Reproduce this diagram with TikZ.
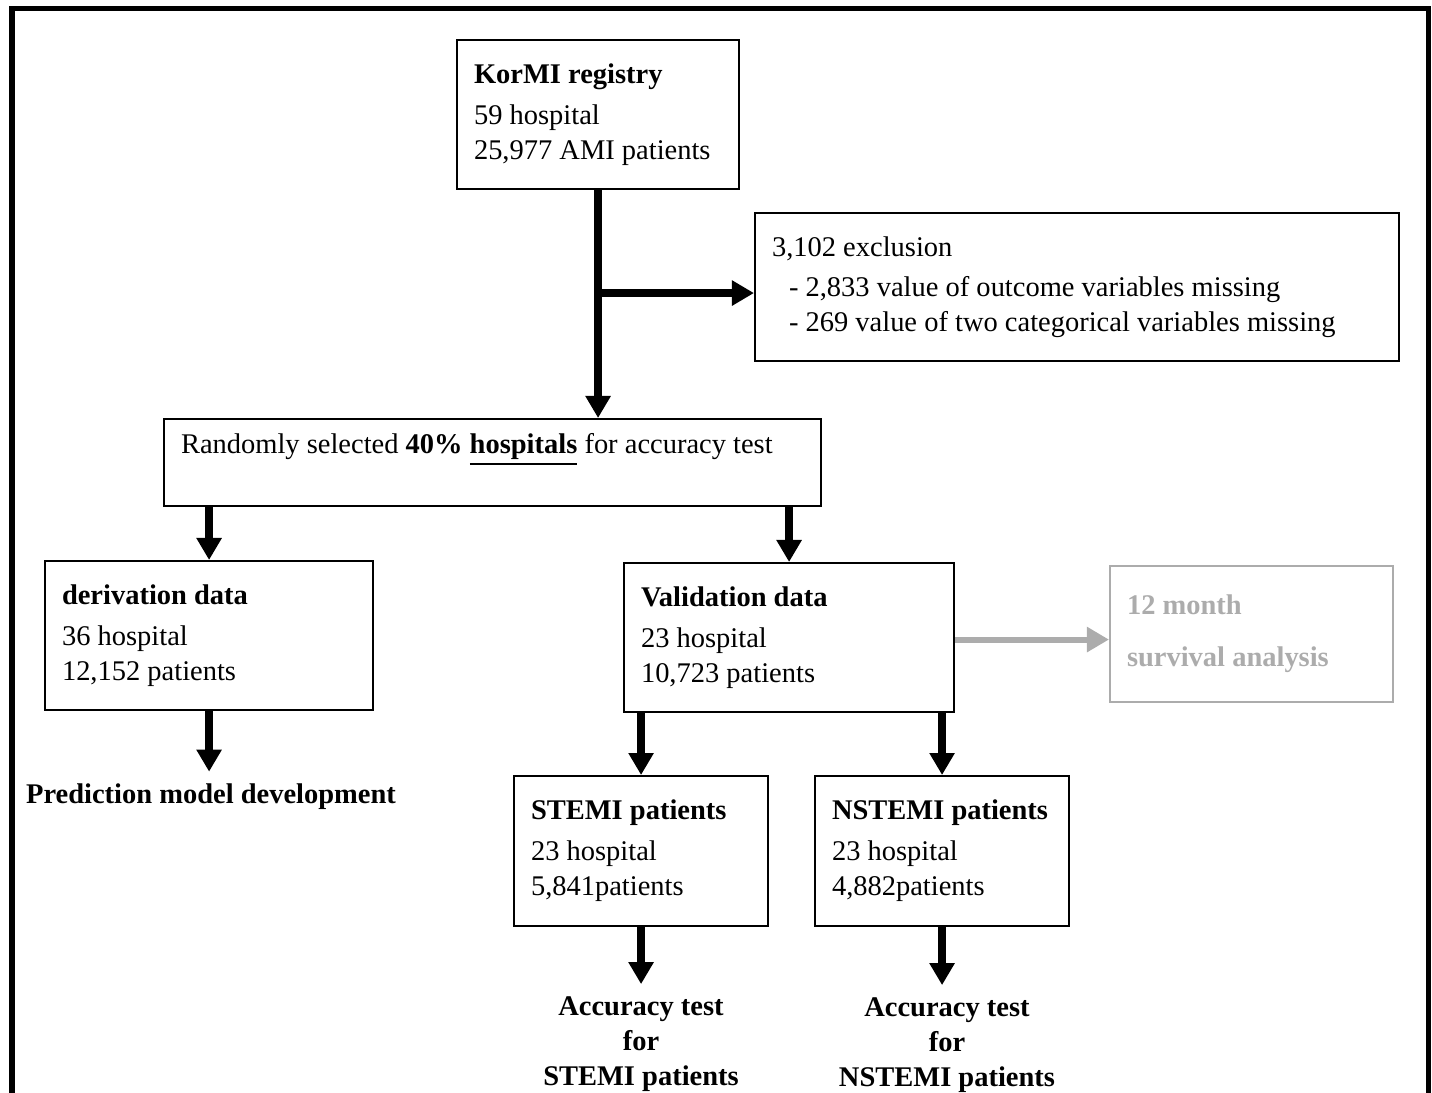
\documentclass[tikz,border=0pt]{standalone}
\usepackage{fontspec}
\setmainfont{Liberation Serif}
\usepackage{xcolor}
\usepackage{tikz}
\usetikzlibrary{positioning, arrows.meta, calc}

\definecolor{survgray}{RGB}{172,172,172}

\begin{document}
\begin{tikzpicture}[x=0.01cm, y=-0.01cm,
    font=\fontsize{8.1pt}{9.96pt}\selectfont,
    box/.style={draw, line width=0.02cm, anchor=north west, align=flush left,
      inner xsep=0.17cm, inner ysep=0pt},
    lbl/.style={align=center, font=\fontsize{8.1pt}{9.96pt}\selectfont\bfseries},
    arr/.style={line width=0.08cm, -{Triangle[length=0.22cm, width=0.24cm]}},
    grayarr/.style={survgray, line width=0.06cm, -{Triangle[length=0.22cm, width=0.24cm]}}]
  \useasboundingbox (0,0) rectangle (1432,1093);
  \draw[line width=0.05cm] (12,1100) -- (12,8) -- (1428,8) -- (1428,1100);

  \node[box, text width=2.48cm, minimum height=1.49cm] (kor) at (456,39)
    {\textbf{KorMI registry}\\[0.06cm]59 hospital\\25,977 AMI patients};
  \node[box, text width=6.10cm, minimum height=1.48cm] (excl) at (754,212)
    {3,102 exclusion\\[0.05cm]
     \hspace*{0.17cm}- 2,833 value of outcome variables missing\\
     \hspace*{0.17cm}- 269 value of two categorical variables missing};
  \node[box, text width=6.23cm, minimum height=0.87cm, text height=0.2cm, text depth=0.39cm] (rand) at (163,418)
    {Randomly selected \textbf{40\% \underline{hospitals}} for accuracy test};
  \node[box, text width=2.94cm, minimum height=1.49cm] (der) at (44,560)
    {\textbf{derivation data}\\[0.06cm]36 hospital\\12,152 patients};
  \node[box, text width=2.96cm, minimum height=1.49cm] (val) at (623,562)
    {\textbf{Validation data}\\[0.06cm]23 hospital\\10,723 patients};
  \node[box, draw=survgray, text=survgray, text width=2.49cm, minimum height=1.36cm] (surv) at (1109,565)
    {\textbf{12 month}\\[0.17cm]\textbf{survival analysis}};
  \node[box, text width=2.20cm, minimum height=1.50cm] (stemi) at (513,775)
    {\mbox{\textbf{STEMI patients}}\\[0.06cm]23 hospital\\5,841patients};
  \node[box, text width=2.20cm, minimum height=1.50cm] (nstemi) at (814,775)
    {\mbox{\textbf{NSTEMI patients}}\\[0.06cm]23 hospital\\4,882patients};

  \node[lbl] (pred) at (211,797) {Prediction model development};
  \node[lbl] (acc1) at (641,1044) {Accuracy test\\for\\STEMI patients};
  \node[lbl] (acc2) at (947,1045) {Accuracy test\\for\\NSTEMI patients};

  \draw[arr] (kor.south) -- (kor.south |- rand.north);
  \draw[arr] ($(kor.south |- excl.west)+(0,6)$) -- ($(excl.west)+(0,6)$);
  \draw[arr] (rand.south -| der.north) -- (der.north);
  \draw[arr] (rand.south -| val.north) -- (val.north);
  \draw[arr] (der.south) -- (pred.north -| der.south);
  \draw[grayarr] ($(val.east)+(0,2)$) -- ($(val.east -| surv.west)+(0,2)$);
  \draw[arr] (val.south -| stemi.north) -- (stemi.north);
  \draw[arr] (val.south -| nstemi.north) -- (nstemi.north);
  \draw[arr] (stemi.south) -- (acc1.north -| stemi.south);
  \draw[arr] (nstemi.south) -- (nstemi.south |- acc2.north);
\end{tikzpicture}
\end{document}
